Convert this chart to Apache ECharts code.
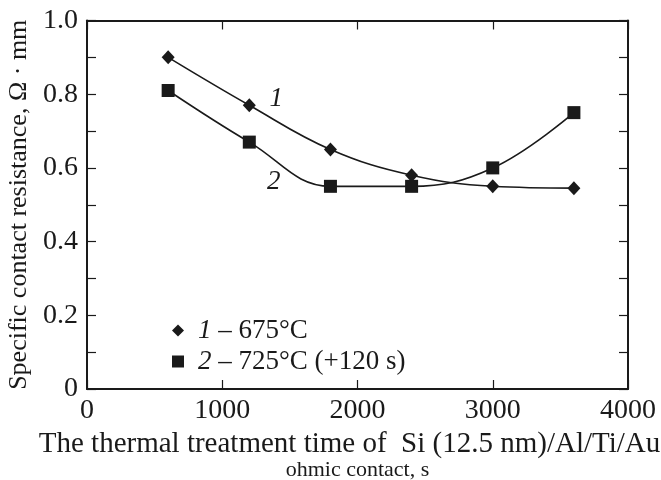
<!DOCTYPE html>
<html>
<head>
<meta charset="utf-8">
<script src="https://cdn.jsdelivr.net/npm/echarts@6/dist/echarts.min.js"></script>
<style>html,body{margin:0;padding:0;background:#fff;}#c{width:661px;height:480px;}</style>
</head>
<body>
<div id="c"></div>
<script>
var times = [600, 1200, 1800, 2400, 3000, 3600];
var series1 = [0.90, 0.77, 0.65, 0.58, 0.55, 0.545];
var series2 = [0.81, 0.67, 0.55, 0.55, 0.60, 0.75];
var legendNames = ['1 \u2013 675\u00B0C', '2 \u2013 725\u00B0C (+120 s)'];
var curveLabels = [{text: '1', x: 1400, y: 0.787}, {text: '2', x: 1380, y: 0.562}];
var xTicks = [0, 1000, 2000, 3000, 4000];
var yTickLabels = [0, 0.2, 0.4, 0.6, 0.8, 1.0];

var FONT = 'Liberation Serif';
var INK = '#1a1a1a';
var chart = echarts.init(document.getElementById('c'), null, {renderer: 'canvas'});

function pairs(ys) { return times.map(function (t, i) { return [t, ys[i]]; }); }

var axisLine = {show: true, onZero: false, lineStyle: {color: INK, width: 2}};
var tick = {show: true, inside: true, length: 9, lineStyle: {color: INK, width: 1.2}};

var option = {
  animation: false,
  backgroundColor: '#fff',
  grid: {left: 87, right: 33, top: 20.5, bottom: 91, containLabel: false, outerBoundsMode: 'none'},
  xAxis: [{
    type: 'value', min: 0, max: 4000, interval: 1000, position: 'bottom',
    axisLine: axisLine, axisTick: tick, splitLine: {show: false},
    axisLabel: {color: INK, fontFamily: FONT, fontSize: 28, margin: 8,
      formatter: function (v) { return xTicks.indexOf(v) >= 0 ? String(v) : ''; }},
    name: '{a|The thermal treatment time of  Si (12.5 nm)/Al/Ti/Au}\n{b|ohmic contact, s}',
    nameLocation: 'middle', nameGap: 38,
    nameTextStyle: {color: INK, fontFamily: FONT, align: 'center',
      rich: {a: {fontFamily: FONT, fontSize: 29, color: INK, lineHeight: 28, align: 'center', padding: [0, 16, 0, 0]},
             b: {fontFamily: FONT, fontSize: 22, color: INK, lineHeight: 24, align: 'center'}}}
  }, {
    type: 'value', min: 0, max: 4000, interval: 1000, position: 'top',
    axisLine: axisLine, axisTick: tick, axisLabel: {show: false}, splitLine: {show: false}
  }],
  yAxis: [{
    type: 'value', min: 0, max: 1, interval: 0.1, position: 'left',
    axisLine: axisLine, axisTick: tick, splitLine: {show: false},
    axisLabel: {color: INK, fontFamily: FONT, fontSize: 28, margin: 9,
      formatter: function (v) {
        var r = Math.round(v * 10) / 10;
        for (var i = 0; i < yTickLabels.length; i++) {
          if (Math.abs(yTickLabels[i] - r) < 1e-6 && Math.abs(v - r) < 1e-6) return r === 0 ? '0' : r.toFixed(1);
        }
        return '';
      }},
    name: 'Specific contact resistance, \u03A9 \u00B7 mm',
    nameLocation: 'middle', nameGap: 46, nameRotate: 90,
    nameTextStyle: {color: INK, fontFamily: FONT, fontSize: 26}
  }, {
    type: 'value', min: 0, max: 1, interval: 0.1, position: 'right',
    axisLine: axisLine, axisTick: tick, axisLabel: {show: false}, splitLine: {show: false}
  }],
  legend: {
    show: true, orient: 'vertical', left: 167, top: 312, itemGap: 4,
    itemWidth: 12, itemHeight: 12,
    data: [{name: legendNames[0], icon: 'diamond'}, {name: legendNames[1], icon: 'rect'}],
    formatter: function (name) {
      var parts = name.split(' ');
      return '{i|' + parts[0] + '}{t| ' + parts.slice(1).join(' ') + '}';
    },
    textStyle: {color: INK, fontFamily: FONT, fontSize: 27, lineHeight: 26,
      rich: {i: {fontStyle: 'italic', fontFamily: FONT, fontSize: 27, lineHeight: 26, color: INK, padding: [0, 0, 0, 9]},
             t: {fontFamily: FONT, fontSize: 27, lineHeight: 26, color: INK}}}
  },
  series: [{
    name: legendNames[0], type: 'line', data: pairs(series1), smooth: 0.4,
    symbol: 'diamond', symbolSize: [13, 14], showSymbol: true,
    lineStyle: {color: INK, width: 1.6}, itemStyle: {color: INK}, z: 3
  }, {
    name: legendNames[1], type: 'line', data: pairs(series2), smooth: 0.4,
    symbol: 'rect', symbolSize: 13, showSymbol: true,
    lineStyle: {color: INK, width: 1.6}, itemStyle: {color: INK}, z: 3
  }]
};
chart.setOption(option);

var gfx = curveLabels.map(function (c) {
  var p = chart.convertToPixel({xAxisIndex: 0, yAxisIndex: 0}, [c.x, c.y]);
  return {type: 'text', x: p[0], y: p[1],
    style: {text: c.text, fontFamily: FONT, fontStyle: 'italic', fontSize: 27, fill: INK,
      textAlign: 'center', textVerticalAlign: 'middle'}};
});
chart.setOption({graphic: gfx});
</script>
</body>
</html>
